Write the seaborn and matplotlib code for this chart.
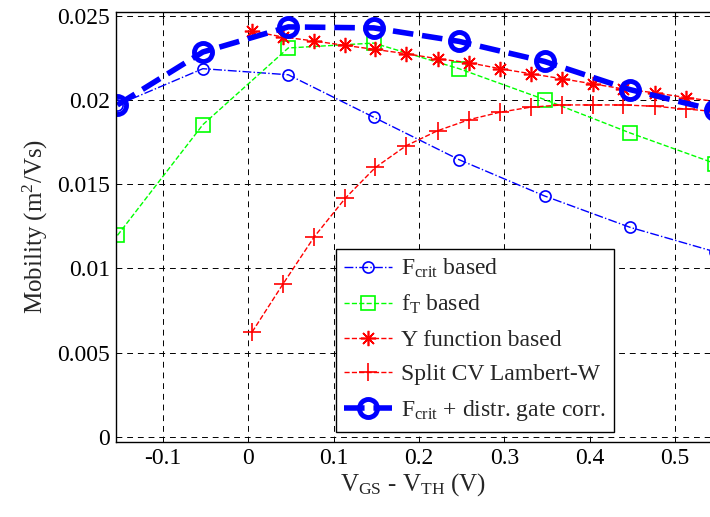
import numpy as np
import pandas as pd
import matplotlib
matplotlib.use("Agg")
import matplotlib.pyplot as plt
import seaborn as sns

# Дані
x_coarse = [-0.153, -0.053, 0.047, 0.147, 0.247, 0.347, 0.447, 0.547]
fcrit_based = [0.0197, 0.02185, 0.02149, 0.01897, 0.01645, 0.0143, 0.01244, 0.01098]
ft_based = [0.01196, 0.01853, 0.02308, 0.02337, 0.02185, 0.02002, 0.01804, 0.01622]
fcrit_distr = [0.0197, 0.02284, 0.02433, 0.02427, 0.02347, 0.02228, 0.02061, 0.01938]

x_fine = [0.0047, 0.041, 0.0776, 0.1138, 0.149, 0.185, 0.2218, 0.2589,
          0.295, 0.331, 0.368, 0.4035, 0.4393, 0.476, 0.5123, 0.548]
y_function = [0.02407, 0.02373, 0.02349, 0.02323, 0.02299, 0.02274, 0.02244, 0.0222,
              0.02185, 0.02155, 0.02125, 0.02095, 0.02065, 0.02042, 0.02014, 0.0199]
split_cv = [0.00623, 0.00909, 0.01189, 0.01417, 0.01599, 0.01728, 0.01817, 0.01883,
            0.01927, 0.01957, 0.0197, 0.0197, 0.0197, 0.01962, 0.01946, 0.0193]

x_ticks = [-0.1, 0, 0.1, 0.2, 0.3, 0.4, 0.5]
x_labels = ['-0.1', '0', '0.1', '0.2', '0.3', '0.4', '0.5']
y_ticks = [0, 0.005, 0.01, 0.015, 0.02, 0.025]
y_labels = ['0', '0.005', '0.01', '0.015', '0.02', '0.025']

sns.set_style("white")
plt.rcParams['font.family'] = ['Liberation Serif', 'DejaVu Serif']
plt.rcParams['mathtext.fontset'] = 'custom'
plt.rcParams['mathtext.rm'] = 'Liberation Serif'
plt.rcParams['mathtext.it'] = 'Liberation Serif:italic'
plt.rcParams['font.size'] = 17

fig = plt.figure(figsize=(7.1, 5.17), dpi=100)
ax = fig.add_axes([0.163, 0.145, 0.837, 0.832])

# Лінії
sns.lineplot(x=x_coarse, y=fcrit_based, ax=ax, sort=False, color='blue', linestyle='-.',
             linewidth=1.0, marker='o', markersize=8, markerfacecolor='none',
             markeredgecolor='blue', markeredgewidth=1.2, label=r'$\mathrm{F_{crit}}$ based')
sns.lineplot(x=x_coarse, y=ft_based, ax=ax, sort=False, color=(0, 1, 0), linestyle='--',
             linewidth=1.0, marker='s', markersize=10, markerfacecolor='none',
             markeredgecolor=(0, 1, 0), markeredgewidth=1.2, label=r'$\mathrm{f_T}$ based')
sns.lineplot(x=x_fine, y=y_function, ax=ax, sort=False, color='red', linestyle='--',
             linewidth=1.0, marker=(8, 2, 0), markersize=11, markeredgecolor='red',
             markeredgewidth=1.2, label='Y function based')
sns.lineplot(x=x_fine, y=split_cv, ax=ax, sort=False, color='red', linestyle='--',
             linewidth=1.0, marker='+', markersize=13, markeredgecolor='red',
             markeredgewidth=1.2, label='Split CV Lambert-W')
sns.lineplot(x=x_coarse, y=fcrit_distr, ax=ax, sort=False, color='blue', linestyle='--',
             linewidth=4.0, marker='o', markersize=13, markerfacecolor='none',
             markeredgecolor='blue', markeredgewidth=3.5,
             label=r'$\mathrm{F_{crit}}$ + distr. gate corr.')

ax.set_xlim(-0.155, 0.5407)
ax.set_ylim(-0.0003, 0.02522)
ax.set_xticks(x_ticks)
ax.set_xticklabels(x_labels)
ax.set_yticks(y_ticks)
ax.set_yticklabels(y_labels)

ax.grid(True, color='black', linestyle=(0, (6, 5)), linewidth=0.7)
ax.tick_params(direction='in', top=True, right=False, length=5, width=0.8,
               labelsize=17, colors='black', pad=4)
for s in ['left', 'bottom', 'top']:
    ax.spines[s].set_color('black')
    ax.spines[s].set_linewidth(1.0)
ax.spines['right'].set_visible(False)

ax.set_xlabel(r'$\mathrm{V_{GS}}$ - $\mathrm{V_{TH}}$ (V)', fontsize=18, labelpad=2)
ax.set_ylabel(r'Mobility (m$^2$/Vs)', fontsize=18, labelpad=5)

leg = ax.legend(loc='lower left', bbox_to_anchor=(0.3707, 0.024), fontsize=17,
                frameon=True, fancybox=False, edgecolor='black', framealpha=1,
                handlelength=2.0, labelspacing=0.55, borderpad=0.35, handletextpad=0.4,
                borderaxespad=0)
leg.get_frame().set_linewidth(1.0)

fig.savefig('out.png', dpi=100)
